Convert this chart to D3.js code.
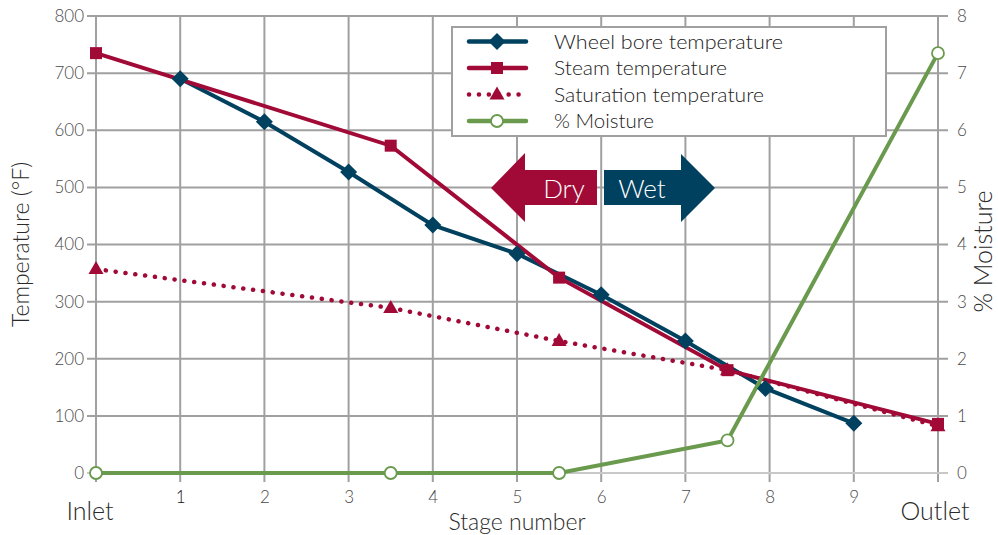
<!DOCTYPE html>
<html>
<head>
<meta charset="utf-8">
<script src="https://cdn.jsdelivr.net/npm/d3@7/dist/d3.min.js"></script>
<style>
  html, body { margin: 0; padding: 0; background: #fff; }
  svg text { font-family: "Lato", "Open Sans", sans-serif; font-weight: 300; }
</style>
</head>
<body>
<svg id="chart" width="998" height="535"></svg>
<script>
// Stage positions: 0 = inlet, 10 = outlet
const stageTicks = [1, 2, 3, 4, 5, 6, 7, 8, 9];
const tempTicks = [0, 100, 200, 300, 400, 500, 600, 700, 800];
const moistTicks = [0, 1, 2, 3, 4, 5, 6, 7, 8];

const wheelStage = [1, 2, 3, 4, 5, 6, 7, 7.95, 9];
const wheelTemp = [690, 615, 527, 434, 384, 312, 231, 148, 87];

const steamStage = [0, 3.5, 5.5, 7.5, 10];
const steamTemp = [735, 573, 342, 180, 86];

const satStage = [0, 3.5, 5.5, 7.5, 10];
const satTemp = [357, 289, 231, 180, 82];

const moistStage = [0, 3.5, 5.5, 7.5, 10];
const moisture = [0, 0, 0, 0.57, 7.35];

const seriesNames = ["Wheel bore temperature", "Steam temperature", "Saturation temperature", "% Moisture"];
const legendWidths = [229, 173, 210, 100];

const BLUE = "#00415f", RED = "#a10a36", GREEN = "#6a9a4e", GRID = "#a0a0a0";

const svg = d3.select("#chart");
const x = d3.scaleLinear().domain([0, 10]).range([96, 938]);
const y = d3.scaleLinear().domain([0, 800]).range([473, 16]);
const y2 = d3.scaleLinear().domain([0, 8]).range([473, 16]);

// grid lines (extend past the plot as tick marks)
const grid = svg.append("g");
grid.selectAll("line.v").data(d3.range(0, 11)).join("line")
  .attr("x1", d => x(d)).attr("x2", d => x(d))
  .attr("y1", y(800)).attr("y2", y(0) + 9)
  .attr("stroke", GRID).attr("stroke-width", 2);
grid.selectAll("line.h").data(tempTicks).join("line")
  .attr("x1", x(0) - 9).attr("x2", x(10) + 10)
  .attr("y1", d => y(d)).attr("y2", d => y(d))
  .attr("stroke", d => d === 0 ? "#c8c8c8" : GRID).attr("stroke-width", 2);

// tick labels via d3 axes (the grid above draws the tick marks)
const left = svg.append("g").attr("transform", `translate(${x(0) - 12},0)`)
  .call(d3.axisLeft(y).tickValues(tempTicks).tickSize(0).tickPadding(0));
const right = svg.append("g").attr("transform", `translate(${x(10) + 19},0)`)
  .call(d3.axisRight(y2).tickValues(moistTicks).tickSize(0).tickPadding(0));
const bottom = svg.append("g").attr("transform", `translate(0,${y(0) + 17})`)
  .call(d3.axisBottom(x).tickValues(stageTicks).tickSize(0).tickPadding(0));
[left, right, bottom].forEach(g => {
  g.select(".domain").remove();
  g.selectAll("text").attr("font-size", 17).attr("fill", "#4a4a4a")
    .attr("font-family", "Lato, sans-serif").attr("font-weight", 300);
});
bottom.selectAll("text").attr("dy", "0.75em");
bottom.selectAll("text").filter(d => d === 1).attr("fill", "#111").attr("font-weight", 400);

// axis titles
svg.append("text").attr("transform", `translate(29,${y(400)}) rotate(-90)`)
  .attr("text-anchor", "middle").attr("font-size", 23).attr("fill", "#2a2a2a")
  .text("Temperature (°F)");
svg.append("text").attr("transform", `translate(992,${y(400) + 7}) rotate(-90)`)
  .attr("text-anchor", "middle").attr("font-size", 25).attr("fill", "#2a2a2a")
  .text("% Moisture");
svg.append("text").attr("x", x(5)).attr("y", 530).attr("text-anchor", "middle")
  .attr("font-size", 23).attr("fill", "#2a2a2a").text("Stage number");
svg.append("text").attr("x", x(0) - 6).attr("y", 520).attr("text-anchor", "middle")
  .attr("font-size", 25).attr("fill", "#2a2a2a").text("Inlet");
svg.append("text").attr("x", x(10) - 3).attr("y", 520).attr("text-anchor", "middle")
  .attr("font-size", 25).attr("fill", "#2a2a2a").text("Outlet");

// Dry / Wet arrows
const arrows = svg.append("g");
arrows.append("path")
  .attr("d", "M491,188 L525,153 L525,170 L597,170 L597,205 L525,205 L525,222 Z")
  .attr("fill", RED);
arrows.append("path")
  .attr("d", "M715,188 L681,154 L681,170 L604,170 L604,205 L681,205 L681,222 Z")
  .attr("fill", BLUE);
arrows.append("text").attr("x", 564).attr("y", 198).attr("text-anchor", "middle")
  .attr("font-size", 26).attr("fill", "#fff").text("Dry");
arrows.append("text").attr("x", 642).attr("y", 198).attr("text-anchor", "middle")
  .attr("font-size", 26).attr("fill", "#fff").text("Wet");

// legend frame
const lg = svg.append("g");
lg.append("rect").attr("x", 452).attr("y", 27).attr("width", 434).attr("height", 109)
  .attr("fill", "#fff").attr("stroke", GRID).attr("stroke-width", 2);

// marker drawing helpers
function diamond(g, cx, cy, c) {
  g.append("path").attr("d", `M${cx},${cy - 8.5} L${cx + 8.5},${cy} L${cx},${cy + 8.5} L${cx - 8.5},${cy} Z`).attr("fill", c);
}
function square(g, cx, cy, c) {
  g.append("rect").attr("x", cx - 6).attr("y", cy - 6).attr("width", 12).attr("height", 12).attr("fill", c);
}
function triangle(g, cx, cy, c) {
  g.append("path").attr("d", `M${cx},${cy - 8} L${cx + 7.5},${cy + 5} L${cx - 7.5},${cy + 5} Z`).attr("fill", c);
}
function circle(g, cx, cy, c) {
  g.append("circle").attr("cx", cx).attr("cy", cy).attr("r", 6).attr("fill", "#fff")
    .attr("stroke", c).attr("stroke-width", 1.8);
}

// series lines
const lineT = d3.line().x(d => x(d[0])).y(d => y(d[1]));
const lineM = d3.line().x(d => x(d[0])).y(d => y2(d[1]));
const wheelPts = d3.zip(wheelStage, wheelTemp);
const steamPts = d3.zip(steamStage, steamTemp);
const satPts = d3.zip(satStage, satTemp);
const moistPts = d3.zip(moistStage, moisture);

const plot = svg.append("g");
plot.append("path").attr("d", lineT(satPts)).attr("fill", "none").attr("stroke", RED)
  .attr("stroke-width", 4.5).attr("stroke-linecap", "round").attr("stroke-dasharray", "0.1 9.8");
plot.append("path").attr("d", lineT(wheelPts)).attr("fill", "none").attr("stroke", BLUE).attr("stroke-width", 4);
plot.append("path").attr("d", lineT(steamPts)).attr("fill", "none").attr("stroke", RED).attr("stroke-width", 4);
plot.append("path").attr("d", lineM(moistPts)).attr("fill", "none").attr("stroke", GREEN).attr("stroke-width", 4);

satPts.forEach(d => triangle(plot, x(d[0]), y(d[1]), RED));
wheelPts.forEach(d => diamond(plot, x(d[0]), y(d[1]), BLUE));
steamPts.forEach(d => square(plot, x(d[0]), y(d[1]), RED));
moistPts.forEach(d => circle(plot, x(d[0]), y2(d[1]), GREEN));

// legend rows
const rows = [
  { c: BLUE, m: diamond, dash: null },
  { c: RED, m: square, dash: null },
  { c: RED, m: triangle, dash: "0.1 9.8" },
  { c: GREEN, m: circle, dash: null }
];
rows.forEach((r, i) => {
  const cy = 41.5 + i * 26.5;
  const ln = lg.append("line").attr("x1", 469).attr("x2", 526).attr("y1", cy).attr("y2", cy)
    .attr("stroke", r.c).attr("stroke-width", 4.5).attr("stroke-linecap", "round");
  if (r.dash) ln.attr("stroke-dasharray", r.dash);
  r.m(lg, 497, cy, r.c);
  lg.append("text").attr("x", 554).attr("y", cy + 7).attr("font-size", 20).attr("fill", "#222")
    .attr("textLength", legendWidths[i]).attr("lengthAdjust", "spacingAndGlyphs")
    .text(seriesNames[i]);
});
</script>
</body>
</html>
